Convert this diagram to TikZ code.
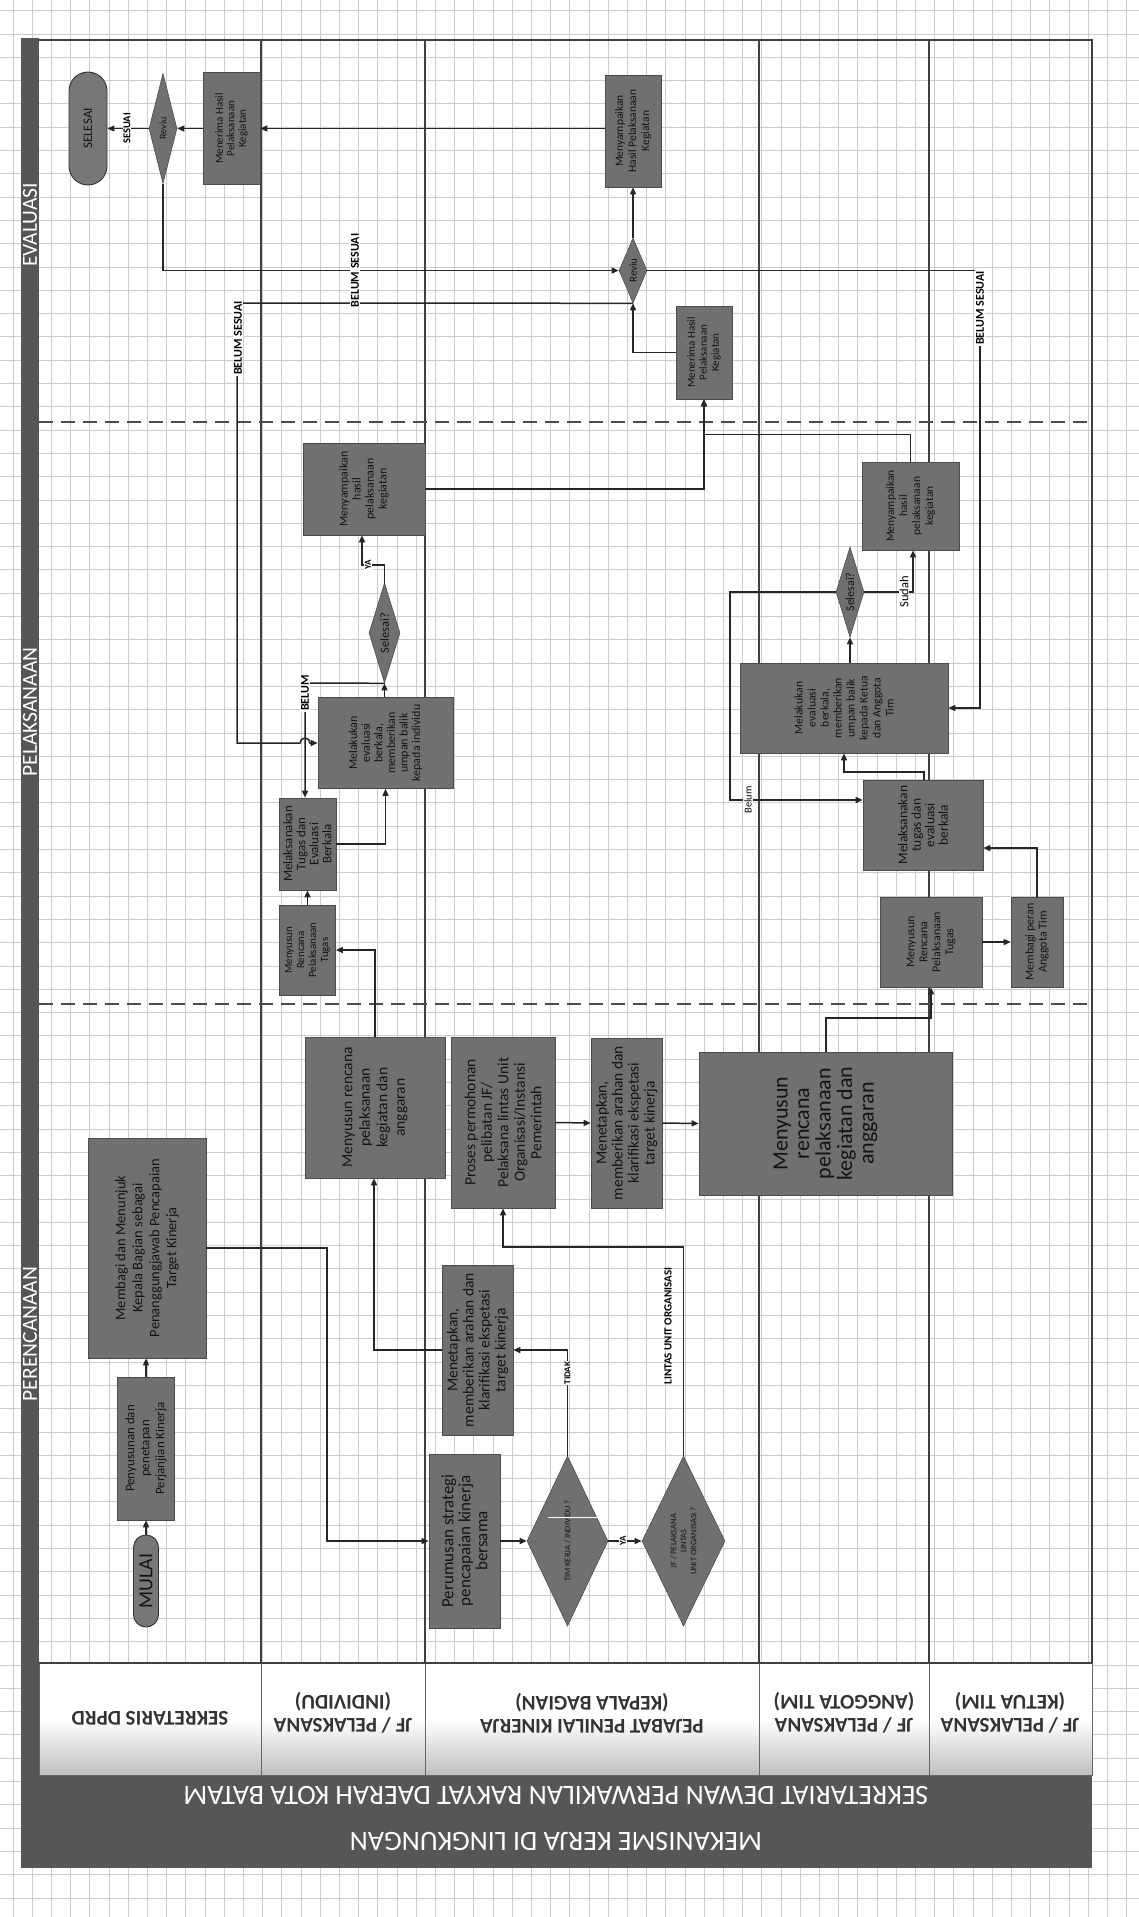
\documentclass[tikz,border=0pt]{standalone}
\usepackage{fontspec}
\setmainfont{Carlito}
\usetikzlibrary{arrows.meta,shapes.geometric}
\definecolor{boxgray}{HTML}{707070}
\definecolor{bargray}{HTML}{565656}
\definecolor{termgray}{HTML}{777777}
\newcommand{\fz}[2]{\fontsize{#1}{#2}\selectfont}
\newcommand{\rotlines}[2]{\rotatebox{90}{\parbox{#1}{\centering #2}}}
\newcommand{\rotone}[1]{\rotatebox{90}{#1}}
\begin{document}
\begin{tikzpicture}[x=1pt,y=-1pt,
  box/.style={draw=black!70, line width=0.6pt, fill=boxgray, inner sep=0pt, text=black!92},
  dia/.style={diamond, draw=black!70, line width=0.6pt, fill=boxgray, inner sep=0pt},
  term/.style={draw=black!80, line width=0.9pt, fill=termgray, inner sep=0pt, text=black!92},
  dtext/.style={inner sep=0pt, text=black!92},
  conn/.style={line width=1.5pt, draw=black!85, -{Triangle[length=7pt,width=6pt]}},
  laneline/.style={line width=1.1pt, draw=black!75},
  phasesep/.style={line width=1.3pt, draw=black!70, dash pattern=on 14pt off 8pt},
  gridl/.style={line width=0.55pt, draw=black!20},
  lbl/.style={fill=white, inner sep=1pt, text=black},
  lbltext/.style={inner sep=1pt, text=black},
  hdr/.style={draw=black!60, line width=0.8pt, top color=white, bottom color=black!25, middle color=white},
  hdrtext/.style={rotate=180, align=center, text=black!80, font=\bfseries\fz{21}{23}},
  phasetext/.style={rotate=90, text=white, font=\fz{21.5}{24}}
]
\useasboundingbox (0,0) rectangle (1139,1917);
\fill[white] (0,0) rectangle (1139,1917);
% graph paper
\foreach \i in {0,...,59} {\draw[gridl] ({12.8+19.2*\i},0) -- ({12.8+19.2*\i},1917);}
\foreach \j in {0,...,82} {\draw[gridl] (0,{10.5+23.3*\j}) -- (1139,{10.5+23.3*\j});}

% bars
\fill[bargray] (21,38) rectangle (39,1775);
\fill[bargray] (21,1775) rectangle (1092,1868);
\node[rotate=180, align=center, text=white, font=\fz{28}{46}] (title) at (556,1818)
  {MEKANISME KERJA DI LINGKUNGAN\\SEKRETARIAT DEWAN PERWAKILAN RAKYAT DAERAH KOTA BATAM};
\node[phasetext] (phEval) at (30,225) {EVALUASI};
\node[phasetext] (phPel) at (30,712) {PELAKSANAAN};
\node[phasetext] (phPer) at (30,1334) {PERENCANAAN};

% header cells
\path[hdr] (39,1663) rectangle (261,1775);
\path[hdr] (261,1663) rectangle (425,1775);
\path[hdr] (425,1663) rectangle (759,1775);
\path[hdr] (759,1663) rectangle (929,1775);
\path[hdr] (929,1663) rectangle (1092,1775);
\node[hdrtext] (hSek) at (150,1718) {SEKRETARIS DPRD};
\node[hdrtext] (hInd) at (343,1713) {JF / PELAKSANA\\(INDIVIDU)};
\node[hdrtext] (hPej) at (592,1713) {PEJABAT PENILAI KINERJA\\(KEPALA BAGIAN)};
\node[hdrtext] (hAng) at (844,1713) {JF / PELAKSANA\\(ANGGOTA TIM)};
\node[hdrtext] (hKet) at (1010,1713) {JF / PELAKSANA\\(KETUA TIM)};

% frame, lanes, phase separators
\draw[laneline] (39,40) -- (1092,40) -- (1092,1663);
\draw[laneline] (39,1663) -- (1092,1663);
\foreach \x in {261,425,759,929} {\draw[laneline] (\x,40) -- (\x,1663);}
\draw[phasesep] (39,422) -- (1092,422);
\draw[phasesep] (39,1004) -- (1092,1004);

% ---------- EVALUASI ----------
\node[term, rounded corners=19pt, minimum width=38pt, minimum height=113pt, font=\fz{13}{14}] (selesai) at (88,128.5) {\rotone{SELESAI}};
\node[dia, minimum width=28pt, minimum height=110pt] (reviuA) at (163,128.5) {};
\node[dtext, font=\fz{10}{11}] (reviuAt) at (reviuA.center) {\rotone{Reviu}};
\node[box, minimum width=57pt, minimum height=112pt, font=\fz{11}{11.5}] (terimaA) at (231.5,128.5) {\rotlines{104pt}{Menerima Hasil\\Pelaksanaan\\Kegiatan}};
\node[box, minimum width=56pt, minimum height=112pt, font=\fz{11.5}{13}] (sampaiP) at (633,131) {\rotlines{104pt}{Menyampaikan\\Hasil Pelaksanaan\\Kegiatan}};
\node[dia, minimum width=28pt, minimum height=65pt] (reviuP) at (633,270.5) {};
\node[dtext, font=\fz{11}{12}] (reviuPt) at (reviuP.center) {\rotone{Reviu}};
\node[box, minimum width=56pt, minimum height=93pt, font=\fz{11}{12}] (terimaP) at (704,352.5) {\rotlines{86pt}{Menerima Hasil\\Pelaksanaan\\Kegiatan}};

% ---------- PELAKSANAAN ----------
\node[box, minimum width=122pt, minimum height=92pt, font=\fz{12}{13}] (sampaiI) at (364,489) {\rotlines{84pt}{Menyampaikan\\hasil\\pelaksanaan\\kegiatan}};
\node[dia, minimum width=31pt, minimum height=100pt] (selesaiI) at (384.5,633) {};
\node[dtext, font=\fz{12.5}{13}] (selesaiIt) at (selesaiI.center) {\rotone{Selesai?}};
\node[box, minimum width=135pt, minimum height=91pt, font=\fz{12}{12.6}] (evalI) at (385.5,743) {\rotlines{85pt}{Melakukan\\evaluasi\\berkala,\\memberikan\\umpan balik\\kepada individu}};
\node[box, minimum width=57pt, minimum height=92pt, font=\fz{13}{13}] (tugasI) at (307.5,844) {\rotlines{86pt}{Melaksanakan\\Tugas dan\\Evaluasi\\Berkala}};
\node[box, minimum width=56pt, minimum height=90pt, font=\fz{11}{12}] (rencanaTugasI) at (307.5,950) {\rotlines{84pt}{Menyusun\\Rencana\\Pelaksanaan\\Tugas}};

\node[box, minimum width=97pt, minimum height=88pt, font=\fz{11.5}{13}] (sampaiT) at (910.5,506) {\rotlines{82pt}{Menyampaikan\\hasil\\pelaksanaan\\kegiatan}};
\node[dia, minimum width=28pt, minimum height=90pt] (selesaiT) at (850,592) {};
\node[dtext, font=\fz{12}{13}] (selesaiTt) at (selesaiT.center) {\rotone{Selesai?}};
\node[box, minimum width=208pt, minimum height=90pt, font=\fz{11.7}{13}] (evalT) at (844,708) {\rotlines{84pt}{Melakukan\\evaluasi\\berkala,\\memberikan\\umpan balik\\kepada Ketua\\dan Anggota\\Tim}};
\node[box, minimum width=120pt, minimum height=90pt, font=\fz{13.5}{13.5}] (tugasT) at (923,825) {\rotlines{84pt}{Melaksanakan\\tugas dan\\evaluasi\\berkala}};
\node[box, minimum width=102pt, minimum height=90pt, font=\fz{12}{13}] (rencanaTugasT) at (931,942) {\rotlines{84pt}{Menyusun\\Rencana\\Pelaksanaan\\Tugas}};
\node[box, minimum width=52pt, minimum height=90pt, font=\fz{12}{13}] (peran) at (1037,942) {\rotlines{84pt}{Membagi peran\\Anggota Tim}};

% ---------- PERENCANAAN ----------
\node[term, rounded corners=12.5pt, minimum width=25pt, minimum height=92pt, font=\fz{20}{21}] (mulai) at (146,1581) {\rotone{MULAI}};
\node[box, minimum width=57pt, minimum height=143pt, font=\fz{13}{15}] (penyusunan) at (146,1448.5) {\rotlines{135pt}{Penyusunan dan\\penetapan\\Perjanjian Kinerja}};
\node[box, minimum width=118pt, minimum height=220pt, font=\fz{14.5}{17}] (membagi) at (147,1248) {\rotlines{212pt}{Membagi dan Menunjuk\\Kepala Bagian sebagai\\Penanggungjawab Pencapaian\\Target Kinerja}};
\node[box, minimum width=140pt, minimum height=141pt, font=\fz{15.5}{17.5}] (rencanaI) at (375,1107.5) {\rotlines{133pt}{Menyusun rencana\\pelaksanaan\\kegiatan dan\\anggaran}};
\node[box, minimum width=71pt, minimum height=174pt, font=\fz{17}{17}] (perumusan) at (464.5,1541) {\rotlines{166pt}{Perumusan strategi\\pencapaian kinerja\\bersama}};
\node[dia, minimum width=81pt, minimum height=170pt] (timKerja) at (567.5,1541) {};
\node[dtext, font=\fz{8.5}{10}] (timKerjat) at (timKerja.center) {\rotone{TIM KERJA / INDIVIDU ?}};
\draw[white, line width=1pt] (548,1517) -- (597,1517);
\node[dia, minimum width=83pt, minimum height=170pt] (lintasD) at (683.5,1541) {};
\node[dtext, font=\fz{8.5}{10}] (lintasDt) at (lintasD.center) {\rotlines{90pt}{JF / PELAKSANA\\LINTAS\\UNIT ORGANISASI ?}};
\node[box, minimum width=71pt, minimum height=170pt, font=\fz{15.5}{16}] (tetapI) at (477.5,1350) {\rotlines{164pt}{Menetapkan,\\memberikan arahan dan\\klarifikasi ekspetasi\\target kinerja}};
\node[box, minimum width=104pt, minimum height=171pt, font=\fz{15.5}{16.5}] (proses) at (503,1122.5) {\rotlines{165pt}{Proses permohonan\\pelibatan JF/\\Pelaksana lintas Unit\\Organisasi/Instansi\\Pemerintah}};
\node[box, minimum width=71pt, minimum height=170pt, font=\fz{15.5}{16}] (tetapP) at (626.5,1123) {\rotlines{164pt}{Menetapkan,\\memberikan arahan dan\\klarifikasi ekspetasi\\target kinerja}};
\node[box, minimum width=253pt, minimum height=143pt, font=\fz{22}{21.5}] (rencanaT) at (825.5,1123.5) {\rotlines{135pt}{Menyusun\\rencana\\pelaksanaan\\kegiatan dan\\anggaran}};

% ---------- connectors ----------
\draw[conn] (terimaA.west) -- (reviuA.east);
\draw[conn] (reviuA.west) -- (selesai.east);
\draw[conn] (sampaiP.west |- terimaA.east) -- (terimaA.east);
\draw[conn] (reviuA.south) |- (reviuP.west);
\draw[conn] (reviuP.north) -- (sampaiP.south);
\draw[conn] (terimaP.west) -| (reviuP.south);
\coordinate (bsR) at (980,270.5);
\draw[conn] (reviuP.east) -- (bsR) |- (evalT.east);
\coordinate (bsL1) at (237,303);
\coordinate (bsL2) at (237,743);
\draw[conn] (reviuP.south) -- (bsL1) -- (bsL2) -- (300,743) arc[start angle=180,end angle=360,radius=5] -- (evalI.west);
\draw[conn] (sampaiT.north) -- ++(0,-27) -| (terimaP.south);
\draw[conn] (sampaiI.east) -| (terimaP.south);
\coordinate (yaK) at (362,565);
\draw[conn] (selesaiI.north) |- (yaK) -- (yaK |- sampaiI.south);
\draw[conn] (evalI.north -| selesaiI.south) -- (selesaiI.south);
\coordinate (belK) at (305,683);
\draw[conn] (selesaiI.south) -- (belK) -- (belK |- tugasI.north);
\draw[conn] (tugasI.east) -| (evalI.south);
\draw[conn] (rencanaTugasI.north) -- (tugasI.south);
\draw[conn] (rencanaI.north) |- (rencanaTugasI.east);

\draw[conn] (mulai.north) -- (penyusunan.south);
\draw[conn] (penyusunan.north) -- (penyusunan.north |- membagi.south);
\coordinate (m1) at (327,1248);
\draw[conn] (membagi.east) -- (m1) |- (perumusan.west);
\draw[conn] (perumusan.east) -- (timKerja.west);
\draw[conn] (timKerja.east) -- (lintasD.west);
\draw[conn] (timKerja.north) |- (tetapI.east);
\coordinate (t1) at (374,1350);
\draw[conn] (tetapI.west) -- (t1) -- (t1 |- rencanaI.south);
\coordinate (l1) at (683.5,1247);
\draw[conn] (lintasD.north) -- (l1) -| (proses.south);
\draw[conn] (proses.east) -- (tetapP.west);
\draw[conn] (tetapP.east) -- (rencanaT.west);
\coordinate (r1) at (826,1018);
\draw[conn] (rencanaT.north -| r1) -- (r1) -| (rencanaTugasT.south);

\draw[conn] (rencanaTugasT.east) -- (peran.west);
\coordinate (p1) at (1037,848);
\draw[conn] (peran.north) -- (p1) -- (p1 -| tugasT.east);
\coordinate (b1) at (730,592);
\coordinate (b2) at (730,800);
\draw[conn] (selesaiT.west) -- (b1) -- (b2) -- (b2 -| tugasT.west);
\coordinate (u1) at (924,772);
\coordinate (u2) at (844,772);
\draw[conn] (tugasT.north -| u1) -- (u1) -- (u2) -- (u2 |- evalT.south);
\draw[conn] (evalT.north -| selesaiT.south) -- (selesaiT.south);
\coordinate (s1) at (913,592);
\draw[conn] (selesaiT.east) -- (s1) -- (s1 |- sampaiT.south);

% ---------- connector labels ----------
\node[lbl, font=\bfseries\fz{10.5}{11}] (lSesuai) at (127,128.5) {\rotone{SESUAI}};
\node[lbl, font=\bfseries\fz{12}{13}] (lBs1) at (355,270.5) {\rotone{BELUM SESUAI}};
\node[lbl, font=\bfseries\fz{12}{13}] (lBs2) at (980,308) {\rotone{BELUM SESUAI}};
\node[lbl, font=\bfseries\fz{12}{13}] (lBs3) at (238,338) {\rotone{BELUM SESUAI}};
\node[lbl, font=\bfseries\fz{9}{10}] (lYa1) at (368,565) {\rotone{YA}};
\node[lbl, font=\bfseries\fz{12}{13}] (lBelum) at (305,693) {\rotone{BELUM}};
\node[lbl, font=\bfseries\fz{9}{10}] (lYa2) at (623,1541) {\rotone{YA}};
\node[lbl, font=\bfseries\fz{9}{10}] (lTidak) at (567.5,1373) {\rotone{TIDAK}};
\node[lbltext, font=\bfseries\fz{11}{12}] (lLintas) at (668,1326) {\rotone{LINTAS UNIT ORGANISASI}};
\node[lbl, font=\fz{10.5}{11}] (lBelum2) at (748,800) {\rotone{Belum}};
\node[lbl, font=\fz{12.5}{13}] (lSudah) at (904,592) {\rotone{Sudah}};
\end{tikzpicture}
\end{document}
